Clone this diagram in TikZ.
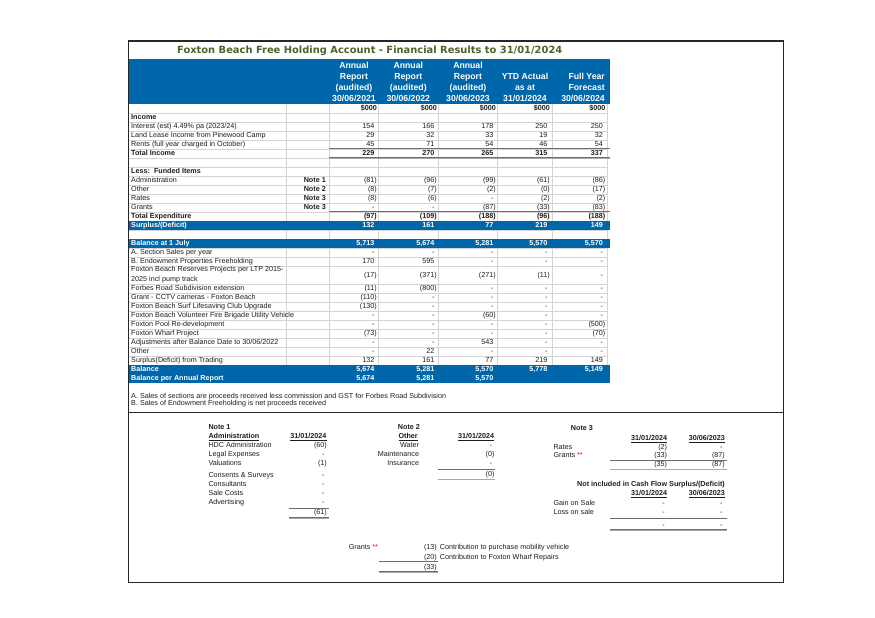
\documentclass[tikz,border=0pt]{standalone}
\usepackage{fontspec}
\setmainfont{Liberation Sans}
\newfontfamily\titlefont{DejaVu Sans}
\definecolor{hdrblue}{RGB}{0,102,170}
\definecolor{titlegreen}{RGB}{79,98,40}
\definecolor{txt}{RGB}{30,30,30}
\definecolor{gridc}{RGB}{212,212,212}
\definecolor{rulec}{RGB}{110,110,110}
\newcommand\fsz{\fontsize{7.2}{8.6}\selectfont}
\newcommand\pz{\phantom{)}}
\newcommand\rstar{\textcolor{red}{**}}
\tikzset{
  lbl/.style={anchor=base west, inner sep=0pt, font=\fsz, text=txt},
  lblb/.style={lbl, font=\fsz\bfseries},
  lblr/.style={anchor=base east, inner sep=0pt, font=\fsz, text=txt},
  val/.style={anchor=base east, inner sep=0pt, font=\fsz, text=txt},
  valb/.style={val, font=\fsz\bfseries},
  wlbl/.style={anchor=base west, inner sep=0pt, font=\fsz\bfseries, text=white},
  wval/.style={anchor=base east, inner sep=0pt, font=\fsz\bfseries, text=white},
  hdr/.style={anchor=base, inner sep=0pt, font=\fontsize{8.7}{11}\selectfont\bfseries, text=white},
  hdre/.style={hdr, anchor=base east},
  gridline/.style={draw=gridc, line width=0.6pt},
  sumrule/.style={draw=rulec, line width=0.8pt},
  dblrule/.style={draw=rulec, line width=0.6pt, double=rulec!60, double distance=0.5pt},
  framerule/.style={draw=black!85, line width=1.3pt},
  curl/.style={lbl}, curv/.style={val}
}
% cell only if non-empty
\newcommand\cell[5]{\if\relax\detokenize{#5}\relax\else\node[#1] (#2) at (#3,{#4}) {#5};\fi}
\newcommand\drow[8]{%
  \cell{curl}{r#1l}{131}{110.9+9*(#1)}{#2}%
  \cell{valb}{r#1n}{326}{110.9+9*(#1)}{#3}%
  \cell{curv}{r#1a}{377}{110.9+9*(#1)}{#4}%
  \cell{curv}{r#1b}{437}{110.9+9*(#1)}{#5}%
  \cell{curv}{r#1c}{496}{110.9+9*(#1)}{#6}%
  \cell{curv}{r#1d}{550}{110.9+9*(#1)}{#7}%
  \cell{curv}{r#1e}{605.5}{110.9+9*(#1)}{#8}%
}
\begin{document}
\begin{tikzpicture}[x=1pt,y=-1pt]
\useasboundingbox (0,0) rectangle (875,618);
\fill[white] (0,0) rectangle (875,618);

% grid
\foreach \k in {1,...,18,20,21,...,29}
  \draw[gridline] (129,{103.8+9*\k}) -- (607,{103.8+9*\k});
\foreach \x in {286,329,378,438,497,552,607}
  \draw[gridline] (\x,103.8) -- (\x,382.8);

% blue bands
\fill[hdrblue] (129,59) rectangle (610,103.8);
\fill[hdrblue] (129,220.8) rectangle (610,229.8);
\fill[hdrblue] (129,238.8) rectangle (610,247.8);
\fill[hdrblue] (129,364.8) rectangle (610,382.8);

% frame
\draw[framerule] (128.3,41) rectangle (783.3,582.7);
\draw[framerule] (128.3,412.7) -- (783.3,412.7);

% title
\node[anchor=base, inner sep=0pt, font=\titlefont\bfseries\fontsize{9.9}{11}\selectfont, text=titlegreen] (title) at (369.7,53.5)
  {Foxton Beach Free Holding Account - Financial Results to 31/01/2024};

% header
\node[hdr] (h1a) at (354,68.1) {Annual};
\node[hdr] (h1b) at (354,79.1) {Report};
\node[hdr] (h1c) at (354,90.1) {(audited)};
\node[hdr] (h1d) at (354,101.1) {30/06/2021};
\node[hdr] (h2a) at (408.3,68.1) {Annual};
\node[hdr] (h2b) at (408.3,79.1) {Report};
\node[hdr] (h2c) at (408.3,90.1) {(audited)};
\node[hdr] (h2d) at (408.3,101.1) {30/06/2022};
\node[hdr] (h3a) at (468,68.1) {Annual};
\node[hdr] (h3b) at (468,79.1) {Report};
\node[hdr] (h3c) at (468,90.1) {(audited)};
\node[hdr] (h3d) at (468,101.1) {30/06/2023};
\node[hdr] (h4a) at (525,79.1) {YTD Actual};
\node[hdr] (h4b) at (525,90.1) {as at};
\node[hdr] (h4c) at (525,101.1) {31/01/2024};
\node[hdre] (h5a) at (605,79.1) {Full Year};
\node[hdre] (h5b) at (605,90.1) {Forecast};
\node[hdre] (h5c) at (605,101.1) {30/06/2024};

% rows
\tikzset{curl/.style={lblb}, curv/.style={valb}}
\drow{0}{}{}{\$000}{\$000}{\$000}{\$000}{\$000}
\drow{1}{Income}{}{}{}{}{}{}
\tikzset{curl/.style={lbl}, curv/.style={val}}
\drow{2}{Interest (est) 4.49\% pa (2023/24)}{}{154\pz}{166\pz}{178\pz}{250\pz}{250\pz}
\drow{3}{Land Lease Income from Pinewood Camp}{}{29\pz}{32\pz}{33\pz}{19\pz}{32\pz}
\drow{4}{Rents (full year charged in October)}{}{45\pz}{71\pz}{54\pz}{46\pz}{54\pz}
\tikzset{curl/.style={lblb}, curv/.style={valb}}
\drow{5}{Total Income}{}{229\pz}{270\pz}{265\pz}{315\pz}{337\pz}
\drow{7}{Less:\ \ Funded Items}{}{}{}{}{}{}
\tikzset{curl/.style={lbl}, curv/.style={val}}
\drow{8}{Administration}{Note 1}{(81)}{(96)}{(99)}{(61)}{(86)}
\drow{9}{Other}{Note 2}{(8)}{(7)}{(2)}{(0)}{(17)}
\drow{10}{Rates}{Note 3}{(8)}{(6)}{-\pz}{(2)}{(2)}
\drow{11}{Grants}{Note 3}{-\pz}{-\pz}{(87)}{(33)}{(83)}
\tikzset{curl/.style={lblb}, curv/.style={valb}}
\drow{12}{Total Expenditure}{}{(97)}{(109)}{(188)}{(96)}{(188)}
\tikzset{curl/.style={wlbl}, curv/.style={wval}}
\drow{13}{Surplus/(Deficit)}{}{132\pz}{161\pz}{77\pz}{219\pz}{149\pz}
\drow{15}{Balance at 1 July}{}{5,713\pz}{5,674\pz}{5,281\pz}{5,570\pz}{5,570\pz}
\tikzset{curl/.style={lbl}, curv/.style={val}}
\drow{16}{A. Section Sales per year}{}{-\pz}{-\pz}{-\pz}{-\pz}{-\pz}
\drow{17}{B. Endowment Properties Freeholding}{}{170\pz}{595\pz}{-\pz}{-\pz}{-\pz}
\node[lbl] (r18l) at (131,271.6) {Foxton Beach Reserves Projects per LTP 2015-};
\node[lbl] (r19l) at (131,281.6) {2025 incl pump track};
\node[val] (r18a) at (377,277.4) {(17)};
\node[val] (r18b) at (437,277.4) {(371)};
\node[val] (r18c) at (496,277.4) {(271)};
\node[val] (r18d) at (550,277.4) {(11)};
\node[val] (r18e) at (605.5,277.4) {-\pz};
\drow{20}{Forbes Road Subdivision extension}{}{(11)}{(800)}{-\pz}{-\pz}{-\pz}
\drow{21}{Grant - CCTV cameras - Foxton Beach}{}{(110)}{-\pz}{-\pz}{-\pz}{-\pz}
\drow{22}{Foxton Beach Surf Lifesaving Club Upgrade}{}{(130)}{-\pz}{-\pz}{-\pz}{-\pz}
\drow{23}{Foxton Beach Volunteer Fire Brigade Utility Vehicle}{}{-\pz}{-\pz}{(60)}{-\pz}{-\pz}
\drow{24}{Foxton Pool Re-development}{}{-\pz}{-\pz}{-\pz}{-\pz}{(500)}
\drow{25}{Foxton Wharf Project}{}{(73)}{-\pz}{-\pz}{-\pz}{(70)}
\drow{26}{Adjustments after Balance Date to 30/06/2022}{}{-\pz}{-\pz}{543\pz}{-\pz}{-\pz}
\drow{27}{Other}{}{-\pz}{22\pz}{-\pz}{-\pz}{-\pz}
\drow{28}{Surplus(Deficit) from Trading}{}{132\pz}{161\pz}{77\pz}{219\pz}{149\pz}
\tikzset{curl/.style={wlbl}, curv/.style={wval}}
\drow{29}{Balance}{}{5,674\pz}{5,281\pz}{5,570\pz}{5,778\pz}{5,149\pz}
\drow{30}{Balance per Annual Report}{}{5,674\pz}{5,281\pz}{5,570\pz}{}{}

% total rules
\draw[sumrule] (329,148.8) -- (610,148.8);
\draw[dblrule] (329,157.9) -- (610,157.9);
\draw[sumrule] (329,211.8) -- (610,211.8);

% footnotes
\node[lbl] (fa) at (131,398.3) {A. Sales of sections are proceeds received less commission and GST for Forbes Road Subdivision};
\node[lbl] (fb) at (131,405.3) {B. Sales of Endowment Freeholding is net proceeds received};

% Note 1
\node[lblb] (n1t) at (208.3,429.9) {Note 1};
\node[lblb] (n1h) at (208.3,438.3) {\underline{Administration}};
\node[valb] (n1d) at (326.7,438.3) {\underline{31/01/2024}};
\node[lbl] (n1i1) at (208.3,447.9) {HDC Administration};
\node[lbl] (n1i2) at (208.3,456.9) {Legal Expenses};
\node[lbl] (n1i3) at (208.3,465.9) {Valuations};
\node[lbl] (n1i4) at (208.3,477.6) {Consents \& Surveys};
\node[lbl] (n1i5) at (208.3,486.6) {Consultants};
\node[lbl] (n1i6) at (208.3,495.9) {Sale Costs};
\node[lbl] (n1i7) at (208.3,504.9) {Advertising};
\node[val] (n1v1) at (327,447.9) {(60)};
\node[val] (n1v2) at (327,456.9) {-\pz};
\node[val] (n1v3) at (327,465.9) {(1)};
\node[val] (n1v4) at (327,477.6) {-\pz};
\node[val] (n1v5) at (327,486.6) {-\pz};
\node[val] (n1v6) at (327,495.9) {-\pz};
\node[val] (n1v7) at (327,504.9) {-\pz};
\draw[sumrule] (289,507.9) -- (328.5,507.9);
\node[val] (n1tot) at (327,514.9) {(61)};
\draw[dblrule] (289,517.8) -- (328.5,517.8);

% Note 2
\node[lblb] (n2t) at (397.7,429.9) {Note 2};
\node[lblb] (n2h) at (398.3,438.3) {\underline{Other}};
\node[valb] (n2d) at (494.3,438.3) {\underline{31/01/2024}};
\node[lblr] (n2i1) at (419.3,447.9) {Water};
\node[lblr] (n2i2) at (419.3,456.9) {Maintenance};
\node[lblr] (n2i3) at (419.3,465.9) {Insurance};
\node[val] (n2v1) at (494.6,447.9) {-\pz};
\node[val] (n2v2) at (494.6,456.9) {(0)};
\node[val] (n2v3) at (494.6,465.9) {-\pz};
\draw[sumrule] (437.7,469.3) -- (495,469.3);
\node[val] (n2tot) at (494.6,476.9) {(0)};
\draw[dblrule] (437.7,479.6) -- (495,479.6);

% Note 3
\node[lblb] (n3t) at (570.7,430.6) {Note 3};
\node[valb] (n3d1) at (667.3,440.3) {\underline{31/01/2024}};
\node[valb] (n3d2) at (725,440.3) {\underline{30/06/2023}};
\node[lbl] (n3i1) at (553.3,449.3) {Rates};
\node[lbl] (n3i2) at (553.3,457.9) {Grants \rstar};
\node[val] (n3a1) at (667.3,449.3) {(2)};
\node[val] (n3b1) at (725,449.3) {-\pz};
\node[val] (n3a2) at (667.3,457.9) {(33)};
\node[val] (n3b2) at (725,457.9) {(87)};
\draw[sumrule] (610,459.9) -- (726.7,459.9);
\node[val] (n3a3) at (667.3,466.9) {(35)};
\node[val] (n3b3) at (725,466.9) {(87)};
\draw[dblrule] (610,469.6) -- (726.7,469.6);
\node[valb] (n4t) at (725,486.9) {Not included in Cash Flow Surplus/(Deficit)};
\node[valb] (n4d1) at (667.3,495.9) {\underline{31/01/2024}};
\node[valb] (n4d2) at (725,495.9) {\underline{30/06/2023}};
\node[lbl] (n4i1) at (553.3,505.9) {Gain on Sale};
\node[lbl] (n4i2) at (553.3,514.9) {Loss on sale};
\node[val] (n4a1) at (667.3,505.9) {-\pz};
\node[val] (n4b1) at (725,505.9) {-\pz};
\node[val] (n4a2) at (667.3,514.9) {-\pz};
\node[val] (n4b2) at (725,514.9) {-\pz};
\draw[sumrule] (610,517.9) -- (726.7,517.9);
\node[val] (n4a3) at (667.3,527.9) {-\pz};
\node[val] (n4b3) at (725,527.9) {-\pz};
\draw[dblrule] (610,530.3) -- (726.7,530.3);

% Grants breakdown
\node[lbl] (g0) at (348.6,549) {Grants \rstar};
\node[val] (g1) at (437,549) {(13)};
\node[lbl] (g1t) at (439.7,549) {Contribution to purchase mobility vehicle};
\node[val] (g2) at (437,559.3) {(20)};
\node[lbl] (g2t) at (439.7,559.3) {Contribution to Foxton Wharf Repairs};
\draw[sumrule] (379,561.2) -- (437.9,561.2);
\node[val] (g3) at (437,569.6) {(33)};
\draw[dblrule] (379,572.3) -- (437.9,572.3);
\end{tikzpicture}
\end{document}
